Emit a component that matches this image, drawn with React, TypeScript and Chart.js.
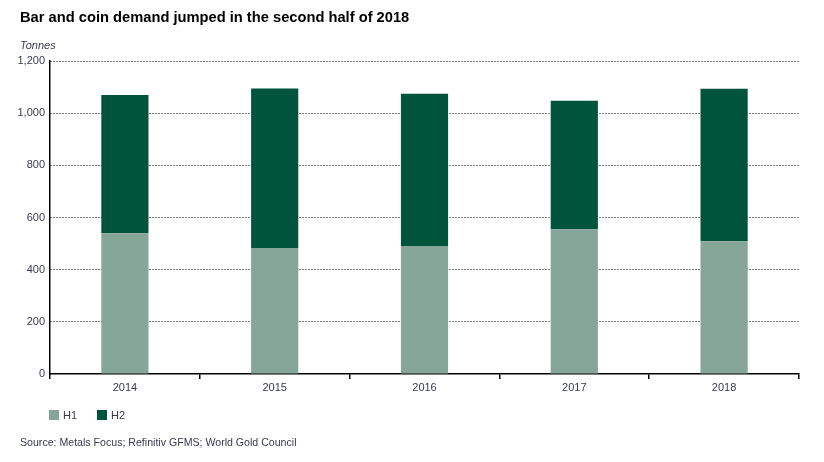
import React, { useEffect, useRef } from "react";
import { Chart, registerables } from "chart.js";

Chart.register(...registerables);

const categories = ["2014", "2015", "2016", "2017", "2018"];
const h1Values = [540, 483, 491, 555, 509];
const h2Values = [530, 612, 583, 493, 585];
const yTicks = [0, 200, 400, 600, 800, 1000, 1200];

const H1_COLOR = "#85a699";
const H2_COLOR = "#00543c";
const FONT = "'Liberation Sans', Arial, sans-serif";
const TEXT = "#393a52";

export default function App() {
  const ref = useRef<HTMLCanvasElement | null>(null);

  useEffect(() => {
    document.body.style.margin = "0";
    const canvas = ref.current;
    if (!canvas) return;
    const chart = new Chart(canvas, {
      type: "bar",
      data: {
        labels: categories,
        datasets: [
          { label: "H1", data: h1Values, backgroundColor: H1_COLOR, barPercentage: 0.315, categoryPercentage: 1 },
          { label: "H2", data: h2Values, backgroundColor: H2_COLOR, barPercentage: 0.315, categoryPercentage: 1 },
        ],
      },
      options: {
        animation: false,
        responsive: false,
        devicePixelRatio: 1,
        layout: { padding: { left: 0, right: 25, top: 61, bottom: 68 } },
        plugins: { legend: { display: false }, tooltip: { enabled: false }, title: { display: false } },
        scales: {
          x: {
            stacked: true,
            afterFit: (s: any) => { s.height = 20; },
            border: { display: true, color: "#000", width: 1.5 },
            grid: { drawOnChartArea: false, drawTicks: true, tickLength: 5, color: "#000", lineWidth: 1.5, offset: true },
            ticks: { color: TEXT, font: { family: FONT, size: 11 }, padding: 2 },
          },
          y: {
            stacked: true,
            min: 0,
            max: 1200,
            afterFit: (s: any) => { s.width = 50; },
            afterBuildTicks: (s: any) => { s.ticks = yTicks.map((v) => ({ value: v })); },
            border: { display: true, color: "#000", width: 1.5, dash: [1, 2] },
            grid: {
              drawTicks: false,
              color: (ctx: any) => (ctx.tick && ctx.tick.value === 0 ? "rgba(0,0,0,0)" : "#000"),
              lineWidth: 1,
            },
            ticks: {
              color: TEXT,
              font: { family: FONT, size: 11 },
              padding: 5,
              callback: (v: any) => Number(v).toLocaleString("en-US"),
            },
          },
        },
      },
    } as any);
    return () => chart.destroy();
  }, []);

  const legendItem = (color: string, label: string, left: number) => (
    <div style={{ position: "absolute", left, top: 409, display: "flex", alignItems: "center" }}>
      <div style={{ width: 10, height: 10, background: color, marginRight: 4 }} />
      <span style={{ fontFamily: FONT, fontSize: 11, color: TEXT }}>{label}</span>
    </div>
  );

  return (
    <div style={{ position: "relative", width: 824, height: 462, background: "#fff", overflow: "hidden" }}>
      <canvas ref={ref} width={824} height={462} style={{ position: "absolute", left: 0, top: 0 }} />
      <div style={{ position: "absolute", left: 20, top: 9, fontFamily: FONT, fontWeight: "bold", fontSize: 14.7, color: "#000" }}>
        Bar and coin demand jumped in the second half of 2018
      </div>
      <div style={{ position: "absolute", left: 20, top: 39, fontFamily: FONT, fontStyle: "italic", fontSize: 11, color: TEXT }}>
        Tonnes
      </div>
      {legendItem(H1_COLOR, "H1", 49)}
      {legendItem(H2_COLOR, "H2", 97)}
      <div style={{ position: "absolute", left: 20, top: 436, fontFamily: FONT, fontSize: 10.6, color: TEXT }}>
        Source: Metals Focus; Refinitiv GFMS; World Gold Council
      </div>
    </div>
  );
}
